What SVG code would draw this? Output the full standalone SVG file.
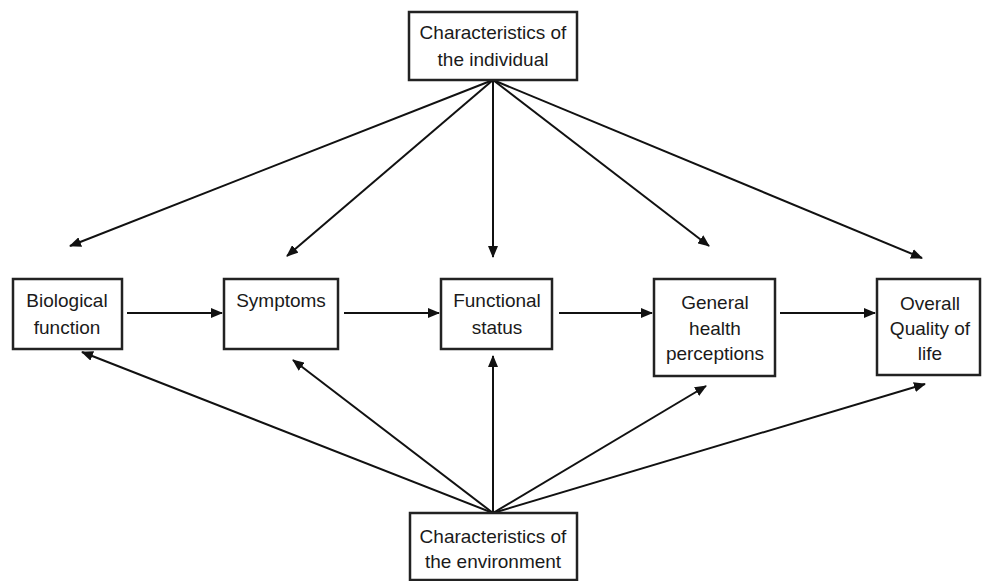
<svg xmlns="http://www.w3.org/2000/svg" width="982" height="581" viewBox="0 0 982 581">
<defs>
<marker id="ah" markerWidth="12" markerHeight="10" refX="11" refY="5" orient="auto" markerUnits="userSpaceOnUse">
<path d="M0,0 L12,5 L0,10 Z" fill="#111"/>
</marker>
<style>
.box{fill:#fff;stroke:#222;stroke-width:2.5}
.t{font-family:"Liberation Sans",Arial,sans-serif;font-size:19px;fill:#1a1a1a;text-anchor:middle}
.c{stroke:#111;stroke-width:2;fill:none;marker-end:url(#ah)}
</style>
</defs>
<rect width="982" height="581" fill="#fff"/>
<g id="connectors">
<line class="c" x1="493" y1="80" x2="70" y2="246"/>
<line class="c" x1="493" y1="80" x2="287" y2="256"/>
<line class="c" x1="493" y1="80" x2="493" y2="257"/>
<line class="c" x1="493" y1="80" x2="709" y2="246"/>
<line class="c" x1="493" y1="80" x2="922" y2="258"/>
<line class="c" x1="493" y1="513" x2="82" y2="352"/>
<line class="c" x1="493" y1="513" x2="293" y2="360"/>
<line class="c" x1="493" y1="513" x2="493" y2="356"/>
<line class="c" x1="493" y1="513" x2="706" y2="386"/>
<line class="c" x1="493" y1="513" x2="925" y2="384"/>
<line class="c" x1="127" y1="313" x2="222" y2="313"/>
<line class="c" x1="344" y1="313" x2="439" y2="313"/>
<line class="c" x1="559" y1="313" x2="652" y2="313"/>
<line class="c" x1="780" y1="313" x2="875" y2="313"/>
</g>
<g id="individual">
<rect class="box" x="409" y="12" width="168" height="68"/>
<text class="t" x="493" y="39">Characteristics of</text>
<text class="t" x="493" y="66">the individual</text>
</g>
<g id="biological">
<rect class="box" x="13" y="279" width="109" height="70"/>
<text class="t" x="67" y="307">Biological</text>
<text class="t" x="67" y="334">function</text>
</g>
<g id="symptoms">
<rect class="box" x="224" y="279" width="114" height="70"/>
<text class="t" x="281" y="307">Symptoms</text>
</g>
<g id="functional">
<rect class="box" x="441" y="279" width="111" height="70"/>
<text class="t" x="497" y="307">Functional</text>
<text class="t" x="497" y="334">status</text>
</g>
<g id="general">
<rect class="box" x="654" y="279" width="121" height="97"/>
<text class="t" x="715" y="309">General</text>
<text class="t" x="715" y="335">health</text>
<text class="t" x="715" y="360">perceptions</text>
</g>
<g id="overall">
<rect class="box" x="877" y="279" width="103" height="96"/>
<text class="t" x="930" y="310">Overall</text>
<text class="t" x="930" y="335">Quality of</text>
<text class="t" x="930" y="360">life</text>
</g>
<g id="environment">
<rect class="box" x="410" y="513" width="167" height="67"/>
<text class="t" x="493" y="543">Characteristics of</text>
<text class="t" x="493" y="568">the environment</text>
</g>
</svg>
